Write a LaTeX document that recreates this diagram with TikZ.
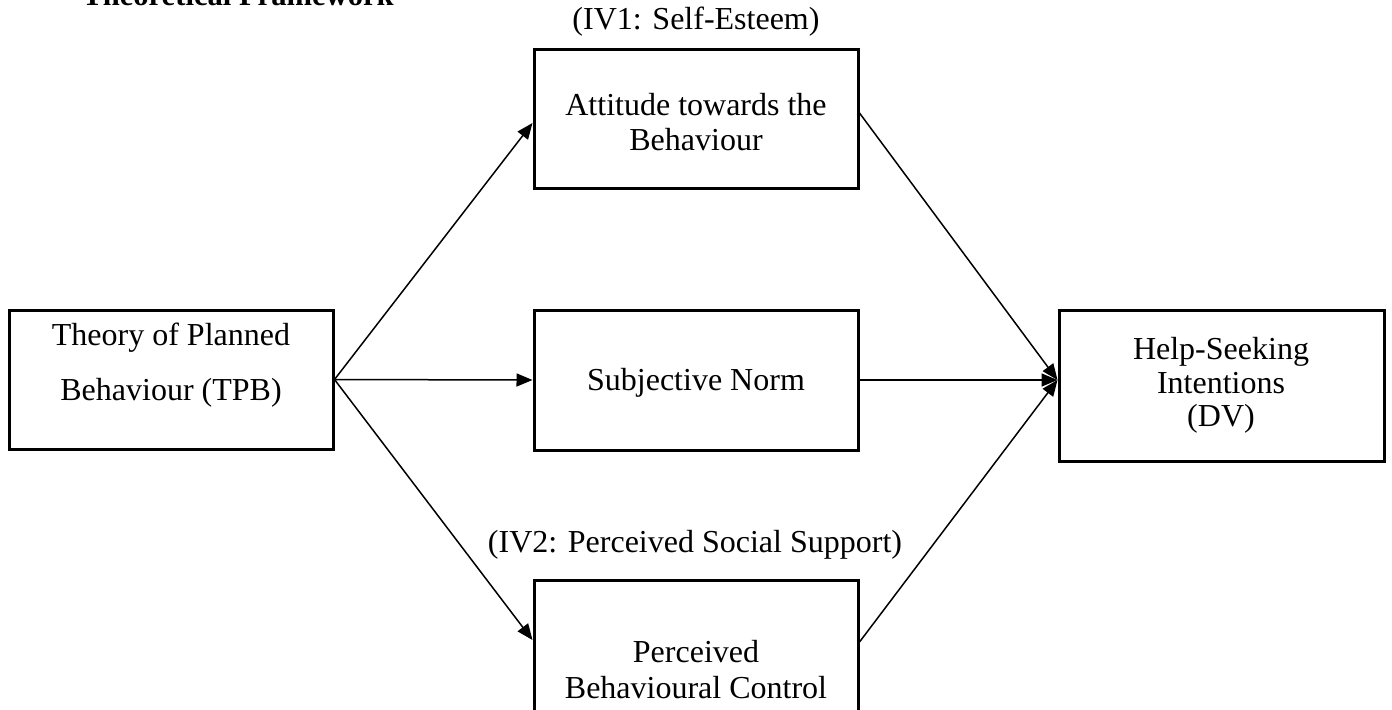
\documentclass[tikz,border=0pt]{standalone}
\usepackage{fontspec}
\setmainfont{Liberation Serif}
\usetikzlibrary{arrows.meta,calc}
\begin{document}
\begin{tikzpicture}[x=0.5pt,y=-0.5pt,
  box/.style={draw, line width=1.5pt, inner sep=0pt, minimum width=162pt},
  lbl/.style={inner sep=0pt, font=\fontsize{16}{19}\selectfont},
  conn/.style={line width=0.75pt},
  arr/.style={conn, -{Triangle[length=8pt,width=6.5pt]}}]
\useasboundingbox (0,0) rectangle (1392,709);
\clip (0,0) rectangle (1392,709);
% title (cut off at top, as in the reference)
\node[inner sep=0pt, anchor=base west, font=\fontsize{15.3}{18}\selectfont\bfseries] (title) at (82,5) {Theoretical Framework};
% boxes
\node[box, minimum height=69.5pt] (tpb) at (171,379.5) {};
\node[box, minimum height=69.5pt] (att) at (696,118.5) {};
\node[box, minimum height=70pt] (sn) at (696,380) {};
\node[box, minimum height=70pt] (pbc) at (696,650) {};
\node[box, minimum width=162.5pt, minimum height=75.5pt] (dv) at (1221.5,385.5) {};
% texts
\node[lbl] (tpb1) at (171,338) {Theory of Planned};
\node[lbl] (tpb2) at (171,393) {Behaviour (TPB)};
\node[lbl] (att1) at (696,105) {Attitude towards the};
\node[lbl] (att2) at (696,140) {Behaviour};
\node[lbl] (sn1) at (696,383) {Subjective Norm};
\node[lbl] (pbc1) at (696,652) {Perceived};
\node[lbl] (pbc2) at (696,688) {Behavioural Control};
\node[lbl] (dv1) at (1221,352) {Help-Seeking};
\node[lbl] (dv2) at (1221,383) {Intentions};
\node[lbl] (dv3) at (1221,419) {(DV)};
\node[lbl] (iv1) at (696,22) {(IV1: Self-Esteem)};
\node[lbl] (iv2) at (695,545) {(IV2: Perceived Social Support)};
% connector end points
\coordinate (attin) at ($(att.west)+(0,4.5)$);
\coordinate (pbcin) at ($(pbc.west)+(0,-10)$);
\coordinate (attout) at ($(att.east)+(0,-5.5)$);
\coordinate (pbcout) at ($(pbc.east)+(0,-8)$);
\coordinate (dvin) at ($(dv.west)+(0,-5.5)$);
% connectors
\draw[arr] (tpb.east) -- (attin);
\draw[arr] (tpb.east) -- (sn.west);
\draw[arr] (tpb.east) -- (pbcin);
\draw[arr] (attout) -- (dvin);
\draw[arr] (sn.east) -- (dvin);
\draw[arr] (pbcout) -- (dvin);
\end{tikzpicture}
\end{document}
